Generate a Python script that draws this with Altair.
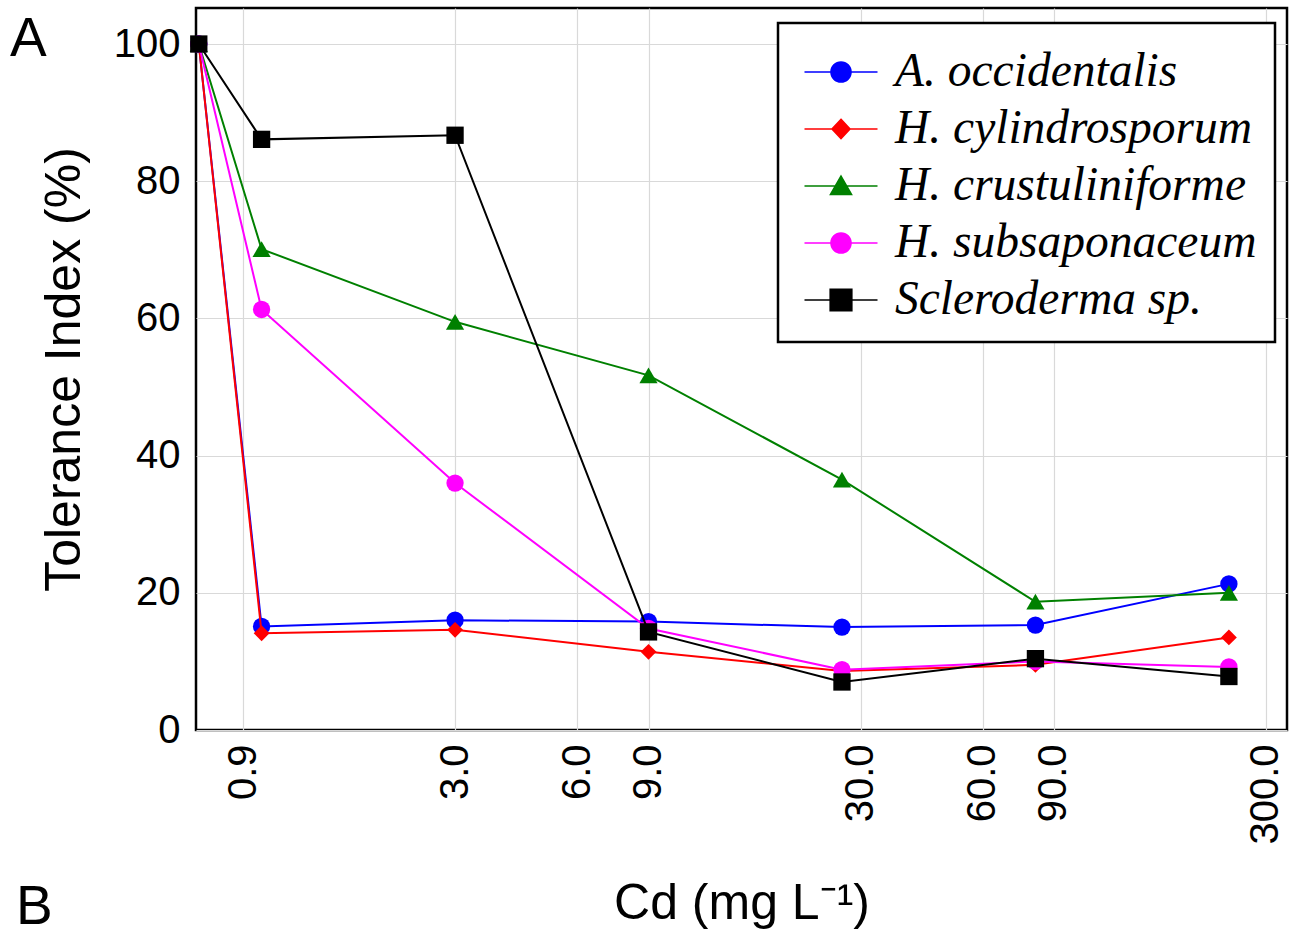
import altair as alt
import pandas as pd

# ---- data ----
conc = [0.7, 1, 3, 9, 27, 81, 243]          # control plotted at 0.7 on the log axis
species = ["A. occidentalis", "H. cylindrosporum", "H. crustuliniforme",
           "H. subsaponaceum", "Scleroderma sp."]
a_occidentalis = [100, 15.1, 16.0, 15.8, 15.0, 15.3, 21.3]
h_cylindrosporum = [100, 14.1, 14.6, 11.4, 8.6, 9.5, 13.5]
h_crustuliniforme = [100, 70.1, 59.5, 51.7, 36.5, 18.7, 20.0]
h_subsaponaceum = [100, 61.3, 36.0, 14.8, 8.8, 10.0, 9.2]
scleroderma = [100, 86.1, 86.7, 14.3, 7.0, 10.4, 7.8]
series = [a_occidentalis, h_cylindrosporum, h_crustuliniforme, h_subsaponaceum, scleroderma]

x_ticks = [0.9, 3, 6, 9, 30, 60, 90, 300]
y_ticks = [0, 20, 40, 60, 80, 100]

colors = ["#0000ff", "#ff0000", "#008000", "#ff00ff", "#000000"]
shapes = ["circle", "diamond", "triangle-up", "circle", "square"]
sizes = [300, 250, 330, 300, 300]

# legend symbols: a line with the marker on it (unit coords, scaled by sqrt(size)/2)
legend_paths = [
    "M-1.217,0H1.217M0.333,0A0.333,0.333,0,1,1,-0.333,0A0.333,0.333,0,1,1,0.333,0Z",
    "M-1.217,0H1.217M0,-0.32L0.3,0L0,0.32L-0.3,0Z",
    "M-1.217,0H1.217M0,-0.33L0.35,0.28L-0.35,0.28Z",
    "M-1.217,0H1.217M0.333,0A0.333,0.333,0,1,1,-0.333,0A0.333,0.333,0,1,1,0.333,0Z",
    "M-1.217,0H1.217M-0.36,-0.36H0.36V0.36H-0.36Z",
]

rows = []
for sp, vals in zip(species, series):
    for c, v in zip(conc, vals):
        rows.append({"species": sp, "conc": c, "ti": v})
df = pd.DataFrame(rows)

W, H = 1091, 722

x_enc = alt.X(
    "conc:Q",
    scale=alt.Scale(type="log", domain=[0.689, 338], nice=False),
    axis=alt.Axis(
        values=x_ticks, format=".1f", labelAngle=-90, labelFontSize=40,
        labelPadding=14, title="Cd (mg L⁻¹)", titleFontSize=50, titlePadding=34,
        titleFontWeight="normal", grid=True, ticks=False, domain=False,
    ),
)
y_enc = alt.Y(
    "ti:Q",
    scale=alt.Scale(domain=[0, 105.25], nice=False, zero=False),
    axis=alt.Axis(
        values=y_ticks, labelFontSize=40, labelPadding=16,
        title="Tolerance Index (%)", titleFontSize=50, titlePadding=24,
        titleFontWeight="normal", grid=True, ticks=False, domain=False,
    ),
)

leg = alt.Legend(
    title=None, orient="none", legendX=582, legendY=15,
    symbolSize=3600, symbolStrokeWidth=1.6, symbolOpacity=1, symbolOffset=14,
    labelFont="Liberation Serif", labelFontStyle="italic", labelFontSize=47.5,
    labelColor="black", labelOffset=23, labelLimit=600,
    rowPadding=2, padding=18, strokeColor="black", fillColor="white",
)

base = alt.Chart(df)

# invisible layer (size 0) that only provides the legend
legend_layer = base.mark_point(filled=True, size=0, strokeWidth=1.6).encode(
    x=x_enc,
    y=y_enc,
    color=alt.Color("species:N", scale=alt.Scale(domain=species, range=colors), legend=leg),
    stroke=alt.Stroke("species:N", scale=alt.Scale(domain=species, range=colors), legend=leg),
    shape=alt.Shape("species:N", scale=alt.Scale(domain=species, range=legend_paths), legend=leg),
)

layers = [legend_layer]
for sp, col, shp, sz in zip(species, colors, shapes, sizes):
    sub = base.transform_filter(alt.datum.species == sp)
    layers.append(sub.mark_line(color=col, strokeWidth=2).encode(x=x_enc, y=y_enc, order="conc:Q"))
    layers.append(sub.mark_point(filled=True, shape=shp, size=sz, color=col, opacity=1).encode(x=x_enc, y=y_enc))

panel = pd.DataFrame({"t": ["A", "B"]})
lab_a = alt.Chart(panel).transform_filter(alt.datum.t == "A").mark_text(
    fontSize=55, font="Liberation Sans", align="left", baseline="alphabetic", color="black"
).encode(text="t:N", x=alt.value(-186), y=alt.value(48))
lab_b = alt.Chart(panel).transform_filter(alt.datum.t == "B").mark_text(
    fontSize=55, font="Liberation Sans", align="left", baseline="alphabetic", color="black"
).encode(text="t:N", x=alt.value(-180), y=alt.value(916))
layers += [lab_a, lab_b]

chart = alt.layer(*layers).properties(
    width=W, height=H,
    autosize=alt.AutoSizeParams(type="none"),
    padding={"left": 196, "top": 8, "right": 4, "bottom": 207},
    background="white",
).configure_view(
    stroke="black", strokeWidth=2.5
).configure_axis(
    labelFont="Liberation Sans", titleFont="Liberation Sans",
    labelColor="black", titleColor="black",
    gridColor="#d9d9d9", gridWidth=1.2,
).configure_legend(
    strokeWidth=2.5
)

chart.save("out.html", embed_options={"renderer": "svg", "actions": False})
